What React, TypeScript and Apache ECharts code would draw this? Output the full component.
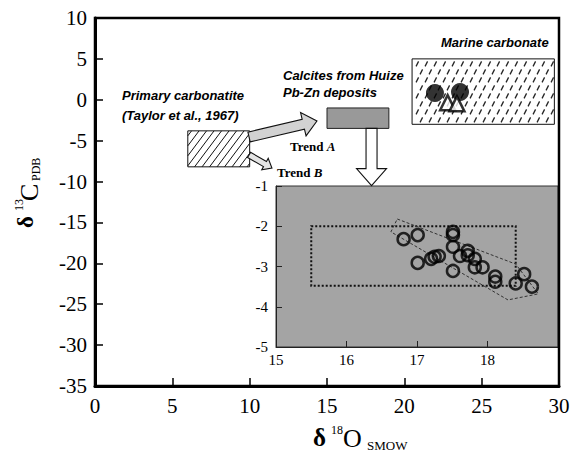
import React, { useEffect, useRef } from 'react';
import * as echarts from 'echarts';

// ---------- main axes ----------
const mainXMin = 0;
const mainXMax = 30;
const mainXStep = 5;
const mainYMin = -35;
const mainYMax = 10;
const mainYStep = 5;
const mainXTickLabels = [0, 5, 10, 15, 20, 25, 30];
const mainYTickLabels = [10, 5, 0, -5, -10, -15, -20, -25, -30, -35];

// ---------- inset axes ----------
const insetXMin = 15;
const insetXMax = 19;
const insetYMin = -5;
const insetYMax = -1;
const insetXTickLabels = [15, 16, 17, 18];
const insetYTickLabels = [-1, -2, -3, -4, -5];

// ---------- Huize calcites (inset) ----------
const huizeO = [16.81, 17.01, 17.01, 17.2, 17.25, 17.31, 17.51, 17.51, 17.51, 17.51, 17.61, 17.72, 17.72, 17.82, 17.82, 17.93, 18.11, 18.11, 18.4, 18.52, 18.63];
const huizeC = [-2.32, -2.22, -2.91, -2.81, -2.76, -2.74, -2.14, -2.22, -2.51, -3.11, -2.74, -2.61, -2.72, -2.81, -3.02, -3.02, -3.25, -3.38, -3.42, -3.19, -3.5];

// ---------- marine carbonate symbols ----------
const marineCircleO = [21.98, 23.6];
const marineCircleC = [0.83, 0.95];
const marineTriO = [22.8, 23.4];
const marineTriC = [-0.35, -0.5];

// ---------- fields (boxes) ----------
const fieldNames = ['Primary carbonatite', 'Calcites from Huize Pb-Zn deposits', 'Marine carbonate'];
const fieldOMin = [6, 15, 20.5];
const fieldOMax = [10, 19, 29.7];
const fieldCMin = [-8.2, -3.5, -3];
const fieldCMax = [-3.8, -1, 5];

// ---------- arrows ----------
const arrowNames = ['Trend A', 'Trend B', 'to inset'];
const arrowFromO = [9.96, 9.96, 17.88];
const arrowFromC = [-4.55, -6.75, -3.5];
const arrowToO = [14.35, 11.44, 17.88];
const arrowToC = [-2.6, -8.34, -10.5];

// ---------- inset outlines ----------
const trendBoxO = [15.5, 18.4];
const trendBoxC = [-3.48, -2.0];
const trendBandO = [16.72, 18.4, 18.72, 18.29, 16.63];
const trendBandC = [-1.82, -2.94, -3.68, -3.83, -2.14];

const SERIF = 'Liberation Serif';
const SANS = 'Liberation Sans';

const arrowStyles = [
  { sw: 10, hw: 24, hl: 14, fill: '#d2d2d2' },
  { sw: 6, hw: 13, hl: 8, fill: '#e4e4e4' },
  { sw: 11, hw: 30, hl: 17, fill: '#ffffff' },
];

export default function App() {
  const ref = useRef<HTMLDivElement>(null);
  useEffect(() => {
    if (!ref.current) return;
    const chart = echarts.init(ref.current, undefined, { renderer: 'svg' });

    const txt = (text: string, x: number, y: number, font: string, extra: any = {}, align = 'left') => ({
      type: 'text', x, y, z: 10, ...extra,
      style: { text, font, fill: '#000', textAlign: align, textVerticalAlign: 'middle' },
    });

    const option: any = {
      animation: false,
      backgroundColor: '#fff',
      grid: [
        { left: 95, top: 18, width: 464, height: 368, show: true, borderColor: '#000', borderWidth: 2.5, backgroundColor: 'transparent', z: 4 },
        { left: 276, top: 186, width: 282, height: 161, show: true, borderColor: '#333', borderWidth: 1, backgroundColor: '#a4a4a4', z: 1 },
      ],
      xAxis: [
        {
          type: 'value', gridIndex: 0, min: mainXMin, max: mainXMax, interval: mainXStep, z: 5,
          axisLine: { show: true, onZero: false, lineStyle: { color: '#000', width: 3 } },
          axisTick: { show: true, inside: true, length: 8, lineStyle: { color: '#000', width: 1.5 } },
          axisLabel: { show: false },
          splitLine: { show: false },
        },
        {
          type: 'value', gridIndex: 1, min: insetXMin, max: insetXMax, interval: 1, z: 3,
          axisLine: { show: true, onZero: false, lineStyle: { color: '#222', width: 1 } },
          axisTick: { show: true, inside: true, length: 6, lineStyle: { color: '#222', width: 1 } },
          axisLabel: { show: false },
          splitLine: { show: false },
        },
      ],
      yAxis: [
        {
          type: 'value', gridIndex: 0, min: mainYMin, max: mainYMax, interval: mainYStep, z: 5,
          axisLine: { show: true, onZero: false, lineStyle: { color: '#000', width: 3 } },
          axisTick: { show: true, inside: true, length: 8, lineStyle: { color: '#000', width: 1.5 } },
          axisLabel: { show: false },
          splitLine: { show: false },
        },
        {
          type: 'value', gridIndex: 1, min: insetYMin, max: insetYMax, interval: 1, z: 3,
          axisLine: { show: true, onZero: false, lineStyle: { color: '#222', width: 1 } },
          axisTick: { show: true, inside: true, length: 6, lineStyle: { color: '#222', width: 1 } },
          axisLabel: { show: false },
          splitLine: { show: false },
        },
      ],
      series: [
        {
          type: 'custom', name: 'fields', xAxisIndex: 0, yAxisIndex: 0, z: 2,
          encode: { x: [0, 2], y: [1, 3] },
          data: fieldNames.map((_, i) => [fieldOMin[i], fieldCMin[i], fieldOMax[i], fieldCMax[i]]),
          renderItem: (params: any, api: any) => {
            const i = params.dataIndex;
            const p0 = api.coord([api.value(0), api.value(3)]);
            const p1 = api.coord([api.value(2), api.value(1)]);
            const L = p0[0], T = p0[1], R = p1[0], B = p1[1];
            const w = R - L, h = B - T;
            const children: any[] = [];
            if (i === 0) {
              children.push({ type: 'rect', shape: { x: L, y: T, width: w, height: h }, style: { fill: '#fff', stroke: '#111', lineWidth: 1 } });
              const k = 0.75, step = 7.5;
              for (let c = L - k * h + step / 2; c < R; c += step) {
                const t0 = Math.max(0, (L - c) / k);
                const t1 = Math.min(h, (R - c) / k);
                if (t1 > t0) children.push({ type: 'line', shape: { x1: c + k * t0, y1: B - t0, x2: c + k * t1, y2: B - t1 }, style: { stroke: '#111', lineWidth: 1 } });
              }
            } else if (i === 1) {
              children.push({ type: 'rect', shape: { x: L, y: T, width: w, height: h }, style: { fill: '#999999', stroke: '#222', lineWidth: 1 } });
            } else {
              children.push({ type: 'rect', shape: { x: L, y: T, width: w, height: h }, style: { fill: '#fff', stroke: '#111', lineWidth: 1 } });
              let r = 0;
              for (let y = T + 5; y < B - 2; y += 8, r++) {
                for (let x = L + 4 + (r % 2) * 4; x < R - 3; x += 9) {
                  children.push({ type: 'line', shape: { x1: x, y1: y + 2.5, x2: x + 2.5, y2: y - 2.5 }, style: { stroke: '#222', lineWidth: 1.2 } });
                }
              }
            }
            return { type: 'group', children };
          },
        },
        {
          type: 'scatter', name: 'Marine carbonate (circles)', xAxisIndex: 0, yAxisIndex: 0, z: 3,
          symbol: 'circle', symbolSize: 18,
          itemStyle: { color: '#000' },
          data: marineCircleO.map((o, i) => [o, marineCircleC[i]]),
        },
        {
          type: 'scatter', name: 'Marine carbonate (triangles)', xAxisIndex: 0, yAxisIndex: 0, z: 4,
          symbol: 'triangle', symbolSize: 15,
          itemStyle: { color: '#fff', borderColor: '#000', borderWidth: 2.5 },
          data: marineTriO.map((o, i) => [o, marineTriC[i]]),
        },
        {
          type: 'custom', name: 'arrows', xAxisIndex: 0, yAxisIndex: 0, z: 5,
          encode: { x: [0, 2], y: [1, 3] },
          data: arrowNames.map((_, i) => [arrowFromO[i], arrowFromC[i], arrowToO[i], arrowToC[i]]),
          renderItem: (params: any, api: any) => {
            const st = arrowStyles[params.dataIndex];
            const a = api.coord([api.value(0), api.value(1)]);
            const b = api.coord([api.value(2), api.value(3)]);
            const dx = b[0] - a[0], dy = b[1] - a[1];
            const len = Math.sqrt(dx * dx + dy * dy);
            const ux = dx / len, uy = dy / len;
            const nx = -uy, ny = ux;
            const hx = b[0] - ux * st.hl, hy = b[1] - uy * st.hl;
            const s = st.sw / 2, hw = st.hw / 2;
            const pts = [
              [a[0] + nx * s, a[1] + ny * s],
              [hx + nx * s, hy + ny * s],
              [hx + nx * hw, hy + ny * hw],
              [b[0], b[1]],
              [hx - nx * hw, hy - ny * hw],
              [hx - nx * s, hy - ny * s],
              [a[0] - nx * s, a[1] - ny * s],
            ];
            return { type: 'polygon', shape: { points: pts }, style: { fill: st.fill, stroke: '#111', lineWidth: 1.1 } };
          },
        },
        {
          type: 'custom', name: 'inset outlines', xAxisIndex: 1, yAxisIndex: 1, z: 3,
          encode: { x: 0, y: 1 },
          data: [[trendBoxO[0], trendBoxC[1]], [trendBandO[0], trendBandC[0]]],
          renderItem: (params: any, api: any) => {
            if (params.dataIndex === 0) {
              const p0 = api.coord([trendBoxO[0], trendBoxC[1]]);
              const p1 = api.coord([trendBoxO[1], trendBoxC[0]]);
              return {
                type: 'rect',
                shape: { x: p0[0], y: p0[1], width: p1[0] - p0[0], height: p1[1] - p0[1] },
                style: { fill: 'none', stroke: '#111', lineWidth: 2, lineDash: [2, 2] },
              };
            }
            const pts = trendBandO.map((o, i) => api.coord([o, trendBandC[i]]));
            return { type: 'polygon', shape: { points: pts }, style: { fill: 'none', stroke: '#333', lineWidth: 1, lineDash: [3, 2] } };
          },
        },
        {
          type: 'scatter', name: 'Huize calcites', xAxisIndex: 1, yAxisIndex: 1, z: 6,
          symbol: 'circle', symbolSize: 12,
          itemStyle: { color: 'rgba(0,0,0,0)', borderColor: '#000', borderWidth: 2.5 },
          data: huizeO.map((o, i) => [o, huizeC[i]]),
        },
      ],
    };

    chart.setOption(option);

    // tick labels placed through the axes' own scales
    const mainFont = `21px ${SERIF}`;
    const insetFont = `15px ${SERIF}`;
    const tickTexts: any[] = [];
    mainXTickLabels.forEach((v) => {
      const p = chart.convertToPixel({ gridIndex: 0 } as any, [v, mainYMin]) as number[];
      tickTexts.push(txt(String(v), p[0], p[1] + 20, mainFont, {}, 'center'));
    });
    mainYTickLabels.forEach((v) => {
      const p = chart.convertToPixel({ gridIndex: 0 } as any, [mainXMin, v]) as number[];
      tickTexts.push(txt(String(v), p[0] - 8, p[1], mainFont, {}, 'right'));
    });
    insetXTickLabels.forEach((v) => {
      const p = chart.convertToPixel({ gridIndex: 1 } as any, [v, insetYMin]) as number[];
      tickTexts.push(txt(String(v), p[0], p[1] + 13, insetFont, {}, 'center'));
    });
    insetYTickLabels.forEach((v) => {
      const p = chart.convertToPixel({ gridIndex: 1 } as any, [insetXMin, v]) as number[];
      tickTexts.push(txt(String(v), p[0] - 8, p[1], insetFont, {}, 'right'));
    });

    const labelFont = `italic bold 13px ${SANS}`;
    const trendRich = {
      a: { fontFamily: SERIF, fontWeight: 'bold', fontSize: 13, fill: '#000' },
      b: { fontFamily: SERIF, fontWeight: 'bold', fontStyle: 'italic', fontSize: 13, fill: '#000' },
    };
    const graphic = [
      ...tickTexts,
      txt('Primary carbonatite', 122, 95, labelFont),
      txt('(Taylor et al., 1967)', 122, 115, labelFont),
      txt('Calcites from Huize', 283, 75, labelFont),
      txt('Pb-Zn deposits', 283, 92, labelFont),
      txt('Marine carbonate', 441, 42, labelFont),
      { type: 'text', x: 290, y: 146, z: 10, style: { text: '{a|Trend }{b|A}', textAlign: 'left', textVerticalAlign: 'middle', rich: trendRich } },
      { type: 'text', x: 277, y: 172, z: 10, style: { text: '{a|Trend }{b|B}', textAlign: 'left', textVerticalAlign: 'middle', rich: trendRich } },
      // x axis title
      txt('δ', 313, 437, `bold 25px ${SERIF}`),
      txt('18', 331, 430, `12px ${SERIF}`),
      txt('O', 343, 438, `26px ${SERIF}`),
      txt('SMOW', 367, 445, `13px ${SERIF}`),
      // y axis title (rotated)
      txt('δ', 25, 228, `bold 23px ${SERIF}`, { rotation: Math.PI / 2 }),
      txt('13', 19, 211, `12px ${SERIF}`, { rotation: Math.PI / 2 }),
      txt('C', 29, 201, `26px ${SERIF}`, { rotation: Math.PI / 2 }),
      txt('PDB', 36, 181, `12px ${SERIF}`, { rotation: Math.PI / 2 }),
    ];
    chart.setOption({ graphic });

    return () => chart.dispose();
  }, []);

  return <div ref={ref} style={{ position: 'absolute', left: 0, top: 0, width: 571, height: 463 }} />;
}
